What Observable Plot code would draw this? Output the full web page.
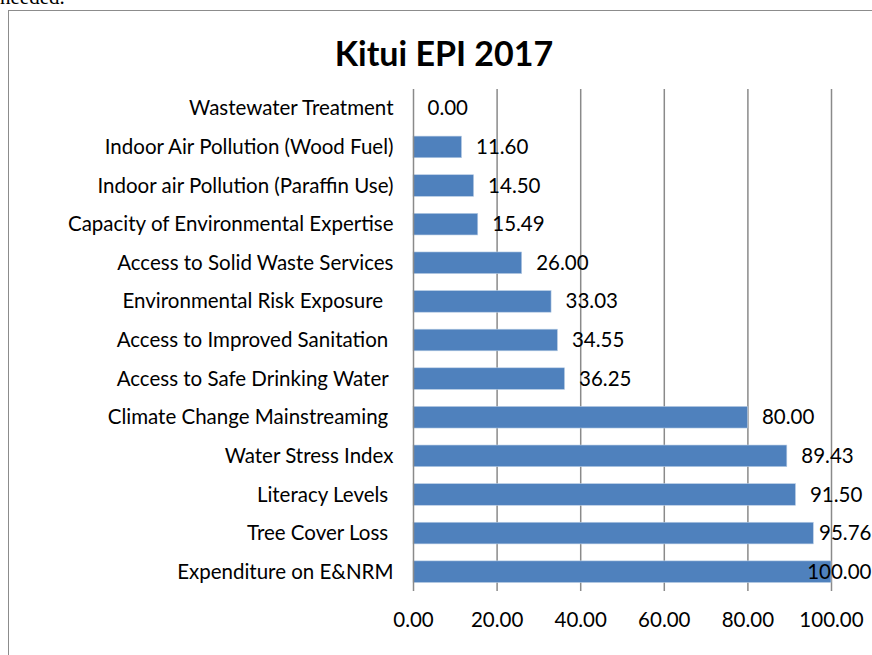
<!DOCTYPE html>
<html>
<head>
<meta charset="utf-8">
<script src="https://cdn.jsdelivr.net/npm/d3@7"></script>
<script src="https://cdn.jsdelivr.net/npm/@observablehq/plot@0.6"></script>
<style>
  html, body { margin: 0; padding: 0; background: #fff; overflow: hidden; }
  body { width: 872px; height: 655px; position: relative; }
  #above { position: absolute; left: 0; top: -13px; font-family: "Liberation Serif", serif; font-size: 21px; color: #000; line-height: 1; }
  #frame { position: absolute; left: 8px; top: 10px; width: 960px; height: 760px; border: 1.5px solid #8c8c8c; box-sizing: border-box; }
  #title { position: absolute; left: 0; width: 888px; top: 31px; text-align: center; font-family: Lato, "Open Sans", sans-serif; font-weight: bold; font-size: 34px; line-height: 44px; color: #000; }
  #chart { position: absolute; left: 0; top: 75px; }
  #chart svg text { white-space: pre; }
</style>
</head>
<body>
<div id="above">needed.</div>
<div id="frame"></div>
<div id="title">Kitui EPI 2017</div>
<div id="chart"></div>
<script>
const categories = [
  "Wastewater Treatment",
  "Indoor Air Pollution (Wood Fuel)",
  "Indoor air Pollution (Paraffin Use)",
  "Capacity of Environmental Expertise",
  "Access to Solid Waste Services",
  "Environmental Risk Exposure  ",
  "Access to Improved Sanitation ",
  "Access to Safe Drinking Water ",
  "Climate Change Mainstreaming ",
  "Water Stress Index",
  "Literacy Levels ",
  "Tree Cover Loss ",
  "Expenditure on E&NRM"
];
const values = [0.00, 11.60, 14.50, 15.49, 26.00, 33.03, 34.55, 36.25, 80.00, 89.43, 91.50, 95.76, 100.00];
const xTicks = [0, 20, 40, 60, 80, 100];

const data = categories.map((c, i) => ({category: c, value: values[i]}));
const fits = data.filter(d => d.value < 93);
const overflow = data.filter(d => d.value >= 93);

const font = "Lato, 'Open Sans', sans-serif";
const fs = 20.5;
const chart = Plot.plot({
  width: 872,
  height: 580,
  marginLeft: 413,
  marginRight: 41,
  marginTop: 14,
  marginBottom: 64,
  style: {fontFamily: font, fontSize: fs + "px", color: "#000", background: "transparent"},
  x: {domain: [0, 100], ticks: xTicks, tickFormat: d => d.toFixed(2)},
  y: {domain: categories, paddingInner: 0.44, paddingOuter: 0.22, round: false, label: null},
  marks: [
    Plot.ruleX(xTicks.slice(1), {stroke: "#8a8a8a", strokeWidth: 1.5, strokeOpacity: 1}),
    Plot.barX(data, {x: "value", y: "category", fill: "#4f81bd", stroke: "#b9cde5", strokeWidth: 0.6}),
    Plot.ruleX([0], {stroke: "#8a8a8a", strokeWidth: 1.5}),
    Plot.ruleY([0], {x1: 0, x2: 100, frameAnchor: "bottom", stroke: "#8a8a8a", strokeWidth: 1.5}),
    Plot.axisX({ticks: xTicks, tickFormat: d => d.toFixed(2), tickSize: 0, tickPadding: 21, label: null, fontSize: fs}),
    Plot.axisY({tickSize: 0, tickPadding: 20, label: null, fontSize: fs}),
    Plot.text(fits, {x: "value", y: "category", text: d => d.value.toFixed(2), textAnchor: "start", dx: 14, fontSize: fs, fill: "#000"}),
    Plot.text(overflow, {y: "category", frameAnchor: "right", text: d => d.value.toFixed(2), textAnchor: "end", dx: 40, fontSize: fs, fill: "#000"})
  ]
});
document.getElementById("chart").appendChild(chart);
</script>
</body>
</html>
